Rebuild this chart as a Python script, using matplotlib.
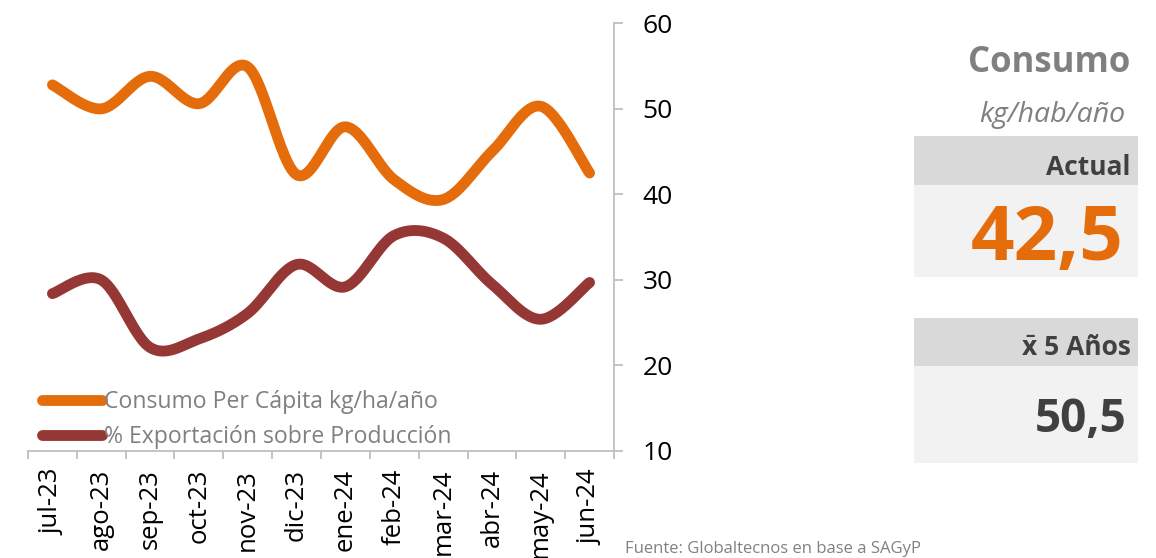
import numpy as np
from matplotlib import pyplot as plt
from matplotlib.patches import Rectangle

plt.rcParams['font.family'] = ['Open Sans', 'DejaVu Sans']

# data
meses = ['jul-23', 'ago-23', 'sep-23', 'oct-23', 'nov-23', 'dic-23',
         'ene-24', 'feb-24', 'mar-24', 'abr-24', 'may-24', 'jun-24']
consumo = [52.8, 50.0, 53.8, 50.6, 54.9, 42.3, 47.9, 41.7, 39.4, 45.0, 50.3, 42.5]
export_pct = [28.4, 30.0, 22.1, 23.1, 26.1, 31.8, 29.2, 35.2, 34.9, 29.5, 25.4, 29.7]
y_ticks = [10, 20, 30, 40, 50, 60]
actual = '42,5'
prom_5 = '50,5'

naranja = '#E46C0A'
bordo = '#953735'
gris = '#BFBFBF'


# excel-like smoothed line (catmull-rom through the points)
def suave(vals, n=30):
    p = np.array(vals, dtype=float)
    x = np.arange(len(p), dtype=float)
    pp = np.concatenate([[p[0]], p, [p[-1]]])
    xx = np.concatenate([[x[0]], x, [x[-1]]])
    xs, ys = [], []
    t = np.linspace(0, 1, n)
    for i in range(len(p) - 1):
        for arr, out in ((xx, xs), (pp, ys)):
            p0, p1, p2, p3 = arr[i], arr[i + 1], arr[i + 2], arr[i + 3]
            c1 = p1 + (p2 - p0) / 6
            c2 = p2 - (p3 - p1) / 6
            out.extend((1 - t) ** 3 * p1 + 3 * (1 - t) ** 2 * t * c1 + 3 * (1 - t) * t ** 2 * c2 + t ** 3 * p2)
    return np.array(xs), np.array(ys)


W, H = 1156, 558
fig = plt.figure(figsize=(W / 100, H / 100), dpi=100)
ax = fig.add_axes([28 / W, 1 - 451 / H, (614 - 28) / W, (451 - 23.3) / H])

xs, ys = suave(consumo)
ax.plot(xs, ys, color=naranja, lw=7.8, solid_capstyle='round', label='Consumo Per Cápita kg/ha/año')
xs, ys = suave(export_pct)
ax.plot(xs, ys, color=bordo, lw=7.8, solid_capstyle='round', label='% Exportación sobre Producción')

ax.set_xlim(-0.5, len(meses) - 0.5)
ax.set_ylim(10, 60)

for s in ['top', 'left']:
    ax.spines[s].set_visible(False)
for s in ['bottom', 'right']:
    ax.spines[s].set_color(gris)
    ax.spines[s].set_linewidth(1.3)

ax.yaxis.tick_right()
ax.set_yticks(y_ticks)
ax.tick_params(axis='y', direction='out', length=6.5, width=1.3, color=gris,
               labelsize=19, pad=14, labelcolor='black')

ax.set_xticks(np.arange(-0.5, len(meses)), [''] * (len(meses) + 1))
ax.set_xticks(np.arange(len(meses)), meses, minor=True)
ax.tick_params(axis='x', which='major', direction='out', length=6, width=1.3, color=gris)
ax.tick_params(axis='x', which='minor', length=0, pad=13, labelsize=18.5, labelrotation=90)

leg = ax.legend(loc='lower left', bbox_to_anchor=(0.02, 0.0), frameon=False, fontsize=16.6,
                handlelength=2.6, handletextpad=0.1, labelspacing=0.45, borderpad=0.1,
                borderaxespad=0)
for t in leg.get_texts():
    t.set_color('#808080')
for l in leg.get_lines():
    l.set_solid_capstyle('round')
    l.set_linewidth(7.8)


def fy(py):
    return 1 - py / H


# right panel
fig.text(1130 / W, fy(72), 'Consumo', ha='right', va='baseline', fontsize=25,
         fontweight='bold', color='#808080')
fig.text(1125 / W, fy(122), 'kg/hab/año', ha='right', va='baseline', fontsize=20.5,
         style='italic', color='#808080')

fig.patches.append(Rectangle((914 / W, fy(185)), 224 / W, 49 / H, transform=fig.transFigure,
                             facecolor='#D9D9D9', edgecolor='none'))
fig.patches.append(Rectangle((914 / W, fy(277)), 224 / W, 92 / H, transform=fig.transFigure,
                             facecolor='#F2F2F2', edgecolor='none'))
fig.text(1130 / W, fy(175), 'Actual', ha='right', va='baseline', fontsize=19,
         fontweight='bold', color='#404040')
fig.text(1124 / W, fy(260), actual, ha='right', va='baseline', fontsize=55,
         fontweight='bold', color=naranja)

fig.patches.append(Rectangle((914 / W, fy(366)), 224 / W, 48 / H, transform=fig.transFigure,
                             facecolor='#D9D9D9', edgecolor='none'))
fig.patches.append(Rectangle((914 / W, fy(463)), 224 / W, 97 / H, transform=fig.transFigure,
                             facecolor='#F2F2F2', edgecolor='none'))
fig.text(1131 / W, fy(355), 'x\u0304 5 Años', ha='right', va='baseline', fontsize=19,
         fontweight='bold', color='#404040')
fig.text(1127 / W, fy(432), prom_5, ha='right', va='baseline', fontsize=33,
         fontweight='bold', color='#404040')

fig.text(625 / W, fy(541), 'Fuente: Globaltecnos en base a SAGyP', ha='left', va='top',
         fontsize=12, color='#808080')

fig.savefig('out.png', dpi=100)
